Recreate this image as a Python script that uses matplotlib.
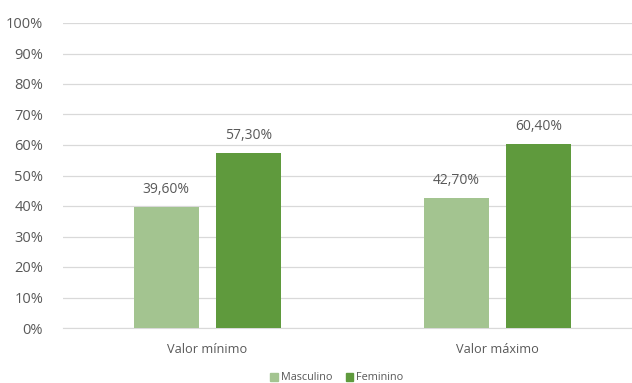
import matplotlib
matplotlib.use("Agg")
import matplotlib.pyplot as plt
import numpy as np

plt.rcParams['font.family'] = ['Open Sans', 'DejaVu Sans']

categories = ["Valor mínimo", "Valor máximo"]
series_names = ["Masculino", "Feminino"]
masculino = [39.6, 42.7]
feminino = [57.3, 60.4]
yticks = [0, 10, 20, 30, 40, 50, 60, 70, 80, 90, 100]

colors = ["#A3C490", "#5F9A3D"]
text_color = "#595959"

fig = plt.figure(figsize=(6.32, 3.83), dpi=100)
ax = fig.add_axes([62.5 / 632, 1 - 328 / 383, 580 / 632, 305 / 383])

x = np.arange(len(categories))
width = 0.222
offset = 0.142

for vals, off, col in ((masculino, -offset, colors[0]), (feminino, offset, colors[1])):
    bars = ax.bar(x + off, vals, width, color=col, zorder=3)
    for b, v in zip(bars, vals):
        ax.text(b.get_x() + b.get_width() / 2, v + 3.2, f"{v:.2f}%".replace(".", ","),
                ha="center", va="bottom", fontsize=10, color=text_color)

ax.set_xlim(-0.5, 1.5)
ax.set_ylim(0, 100)
ax.set_yticks(yticks)
ax.set_yticklabels([f"{t}%" for t in yticks], fontsize=10.5)
ax.set_xticks(x)
ax.set_xticklabels(categories, fontsize=9.2)
ax.tick_params(axis="both", length=0, colors=text_color)
ax.tick_params(axis="x", pad=11)
ax.tick_params(axis="y", pad=14)
ax.yaxis.grid(True, color="#D9D9D9", linewidth=0.9, zorder=0)
for s in ("top", "right", "left"):
    ax.spines[s].set_visible(False)
ax.spines["bottom"].set_color("#D9D9D9")

handles = [plt.Rectangle((0, 0), 1, 1, color=c) for c in colors]
fig.legend(handles, series_names, loc="center", bbox_to_anchor=(337 / 632, 1 - 378 / 383),
           ncol=2, frameon=False, fontsize=7.8, handlelength=0.7, handleheight=0.7,
           handletextpad=0.3, columnspacing=1.2, labelcolor=text_color)

fig.savefig("out.png", dpi=100)
